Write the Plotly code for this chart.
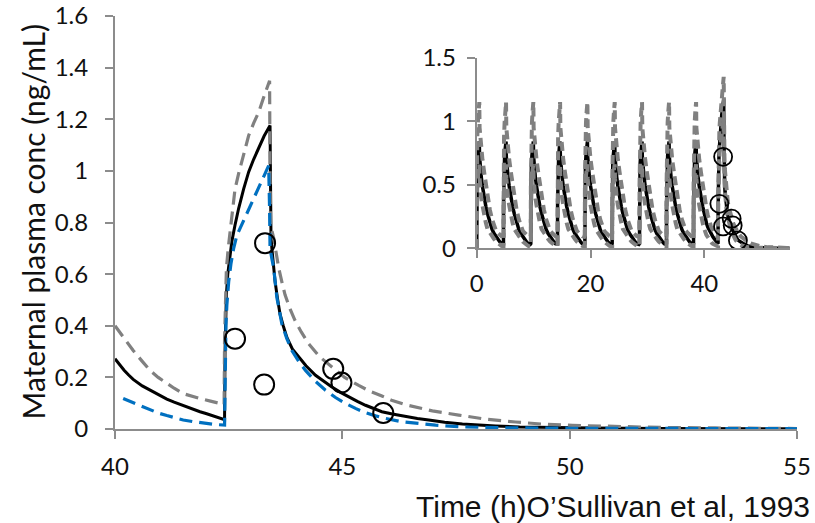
import plotly.graph_objects as go

# ---------------- main panel data (40-55 h) ----------------
black_t = [40.0, 40.1, 40.2, 40.3, 40.4, 40.6, 40.8, 41.0, 41.14, 41.3, 41.5, 41.7, 41.87,
           42.0, 42.2, 42.41, 42.42, 42.43, 42.45, 42.48, 42.52, 42.57, 42.64, 42.72,
           42.83, 42.94, 43.05, 43.16, 43.28, 43.41, 43.42, 43.43, 43.45, 43.48, 43.52,
           43.57, 43.63, 43.70, 43.78, 43.90, 44.04, 44.20, 44.41, 44.60, 44.77, 44.95,
           45.14, 45.33, 45.51, 45.70, 45.87, 46.10, 46.39, 46.65, 46.90, 47.25, 47.64,
           48.0, 48.37, 48.9, 49.47, 50.5, 52.0, 53.5, 55.0]
black_c = [0.272, 0.248, 0.228, 0.209, 0.192, 0.167, 0.148, 0.128, 0.116, 0.104, 0.090,
           0.078, 0.067, 0.060, 0.048, 0.036, 0.30, 0.42, 0.52, 0.60, 0.66, 0.727, 0.79,
           0.855, 0.93, 0.996, 1.045, 1.09, 1.135, 1.176, 0.95, 0.76, 0.70, 0.64, 0.573,
           0.51, 0.445, 0.40, 0.355, 0.31, 0.278, 0.245, 0.208, 0.183, 0.163, 0.143,
           0.124, 0.107, 0.092, 0.079, 0.067, 0.058, 0.048, 0.041, 0.035, 0.026, 0.019,
           0.015, 0.012, 0.008, 0.006, 0.004, 0.002, 0.001, 0.001]

upper_t = [40.0, 40.1, 40.2, 40.3, 40.4, 40.6, 40.77, 40.95, 41.14, 41.3, 41.5, 41.7,
           41.87, 42.1, 42.31, 42.40, 42.41, 42.42, 42.45, 42.49, 42.53, 42.58, 42.64,
           42.72, 42.83, 42.94, 43.05, 43.16, 43.28, 43.40, 43.41, 43.42, 43.49, 43.54,
           43.60, 43.67, 43.74, 43.85, 43.96, 44.10, 44.26, 44.50, 44.77, 45.05, 45.36,
           45.60, 45.87, 46.10, 46.39, 46.98, 47.56, 48.15, 48.81, 49.40, 50.06, 51.0,
           52.0, 53.2, 54.2, 55.0]
upper_c = [0.40, 0.375, 0.35, 0.326, 0.304, 0.262, 0.227, 0.200, 0.176, 0.158, 0.137,
           0.126, 0.118, 0.108, 0.100, 0.095, 0.35, 0.45, 0.62, 0.70, 0.765, 0.85, 0.93,
           0.99, 1.07, 1.137, 1.185, 1.227, 1.29, 1.349, 1.0, 0.79, 0.74, 0.68, 0.624,
           0.57, 0.52, 0.465, 0.42, 0.375, 0.33, 0.28, 0.24, 0.20, 0.169, 0.147, 0.128,
           0.110, 0.094, 0.070, 0.054, 0.038, 0.027, 0.019, 0.014, 0.009, 0.006, 0.004,
           0.003, 0.002]

lower_t = [40.18, 40.35, 40.55, 40.77, 40.95, 41.14, 41.3, 41.5, 41.7, 41.85, 42.0, 42.17,
           42.41, 42.42, 42.44, 42.46, 42.50, 42.55, 42.61, 42.68, 42.77, 42.86, 42.97,
           43.08, 43.23, 43.38, 43.40, 43.41, 43.45, 43.49, 43.56, 43.61, 43.67, 43.78,
           43.89, 44.04, 44.19, 44.40, 44.63, 44.85, 45.07, 45.30, 45.51, 45.73, 45.95,
           46.31, 46.65, 47.05, 47.64, 48.5, 50.0, 52.0, 55.0]
lower_c = [0.118, 0.105, 0.092, 0.073, 0.062, 0.052, 0.043, 0.035, 0.029, 0.025, 0.021,
           0.018, 0.015, 0.30, 0.40, 0.48, 0.57, 0.64, 0.70, 0.75, 0.785, 0.817, 0.862,
           0.906, 0.965, 1.02, 0.85, 0.70, 0.66, 0.624, 0.509, 0.455, 0.407, 0.35, 0.304,
           0.262, 0.227, 0.186, 0.150, 0.122, 0.099, 0.079, 0.063, 0.051, 0.041, 0.028,
           0.021, 0.015, 0.008, 0.005, 0.003, 0.002, 0.001]

# observed data (O'Sullivan et al, 1993)
obs_t = [42.64, 43.30, 43.28, 44.80, 44.98, 45.90]
obs_c = [0.35, 0.72, 0.172, 0.233, 0.180, 0.062]

# ---------------- inset data (earlier dosing cycles, 0-40 h) ----------------
dose_times = [0.0, 4.7, 9.5, 14.2, 19.0, 23.8, 28.6, 33.35, 38.1]
cycle_tau = [0.0, 0.01, 0.04, 0.1, 0.2, 0.32, 0.45, 0.5, 0.6, 0.8, 1.0, 1.3, 1.6, 1.9,
             2.3, 2.7, 3.05, 3.4, 3.8, 4.1, 4.35, 4.7]
cycle_black = [0.036, 0.35, 0.55, 0.65, 0.73, 0.79, 0.84, 0.72, 0.65, 0.56, 0.49, 0.40,
               0.33, 0.272, 0.195, 0.148, 0.116, 0.090, 0.067, 0.048, 0.036, 0.030]
cycle_upper = [0.10, 0.50, 0.75, 0.88, 0.99, 1.08, 1.15, 0.95, 0.88, 0.78, 0.70, 0.60,
               0.50, 0.40, 0.304, 0.227, 0.176, 0.137, 0.118, 0.100, 0.095, 0.090]
cycle_lower = [0.015, 0.28, 0.42, 0.50, 0.57, 0.62, 0.66, 0.55, 0.48, 0.40, 0.34, 0.26,
               0.20, 0.15, 0.118, 0.092, 0.073, 0.052, 0.035, 0.025, 0.018, 0.015]
start_conc = 0.0


def inset_series(cycle_vals, tail_t, tail_c):
    xs, ys = [], []
    for i, d in enumerate(dose_times):
        end = dose_times[i + 1] if i + 1 < len(dose_times) else tail_t[0]
        for k, (tau, v) in enumerate(zip(cycle_tau, cycle_vals)):
            if d + tau < end - 1e-9:
                xs.append(d + tau)
                ys.append(start_conc if (i == 0 and k == 0) else v)
    return xs + list(tail_t), ys + list(tail_c)


GRAY = "#808080"
BLUE = "#0070C0"
AXC = "#8C8C8C"
TICKFONT = dict(family="Lato", size=24, color="#111111")

fig = go.Figure()

# main panel
fig.add_trace(go.Scatter(x=black_t, y=black_c, mode="lines",
                         line=dict(color="black", width=3), xaxis="x", yaxis="y"))
fig.add_trace(go.Scatter(x=upper_t, y=upper_c, mode="lines",
                         line=dict(color=GRAY, width=3.2, dash="13px,7px"), xaxis="x", yaxis="y"))
fig.add_trace(go.Scatter(x=lower_t, y=lower_c, mode="lines",
                         line=dict(color=BLUE, width=3.2, dash="13px,7px"), xaxis="x", yaxis="y"))
fig.add_trace(go.Scatter(x=obs_t, y=obs_c, mode="markers",
                         marker=dict(symbol="circle-open", size=20, color="black",
                                     line=dict(width=2, color="black")),
                         xaxis="x", yaxis="y"))

# inset
ib_x, ib_y = inset_series(cycle_black, black_t, black_c)
iu_x, iu_y = inset_series(cycle_upper, upper_t, upper_c)
il_x, il_y = inset_series(cycle_lower, lower_t, lower_c)
fig.add_trace(go.Scatter(x=ib_x, y=ib_y, mode="lines",
                         line=dict(color="black", width=3.5), xaxis="x2", yaxis="y2"))
fig.add_trace(go.Scatter(x=iu_x, y=iu_y, mode="lines",
                         line=dict(color=GRAY, width=4, dash="9px,5px"), xaxis="x2", yaxis="y2"))
fig.add_trace(go.Scatter(x=il_x, y=il_y, mode="lines",
                         line=dict(color=GRAY, width=4, dash="9px,5px"), xaxis="x2", yaxis="y2"))
fig.add_trace(go.Scatter(x=obs_t, y=obs_c, mode="markers",
                         marker=dict(symbol="circle-open", size=18, color="black",
                                     line=dict(width=1.8, color="black")),
                         xaxis="x2", yaxis="y2"))

axis_common = dict(showline=True, linecolor=AXC, linewidth=2, ticks="outside", ticklen=8,
                   tickwidth=2, tickcolor=AXC, showgrid=False, zeroline=False,
                   tickfont=TICKFONT, automargin=False, ticklabeloverflow="allow")

fig.update_layout(
    width=815, height=523,
    margin=dict(l=115, r=18, t=16, b=94, autoexpand=False),
    paper_bgcolor="white", plot_bgcolor="white",
    showlegend=False,
    xaxis=dict(range=[40, 55], tickvals=[40, 45, 50, 55], domain=[0, 1], anchor="y",
               ticklabelstandoff=7, **axis_common),
    yaxis=dict(range=[0, 1.6], tickvals=[0, 0.2, 0.4, 0.6, 0.8, 1.0, 1.2, 1.4, 1.6],
               ticktext=["0", "0.2", "0.4", "0.6", "0.8", "1", "1.2", "1.4", "1.6"],
               domain=[0, 1], anchor="x", ticklabelstandoff=12, **axis_common),
    xaxis2=dict(range=[0, 55], tickvals=[0, 20, 40], domain=[0.5304, 0.9893], anchor="y2",
                ticklabelstandoff=5, **axis_common),
    yaxis2=dict(range=[0, 1.5], tickvals=[0, 0.5, 1.0, 1.5], ticktext=["0", "0.5", "1", "1.5"],
                domain=[0.4376, 0.8991], anchor="x2", ticklabelstandoff=6, **axis_common),
    annotations=[
        dict(text="Maternal plasma conc (ng/mL)", xref="paper", yref="paper",
             x=0, y=0.5, xanchor="center", yanchor="middle", xshift=-83, textangle=-90,
             showarrow=False, font=dict(family="Lato", size=30, color="#111111")),
        dict(text="Time (h)O\u2019Sullivan et al, 1993", xref="paper", yref="paper",
             x=1.0205, y=0, xanchor="right", yanchor="middle", yshift=-77, borderpad=0,
             showarrow=False, font=dict(family="Liberation Sans", size=30, color="#111111")),
    ],
)

fig.write_html("out.html")
